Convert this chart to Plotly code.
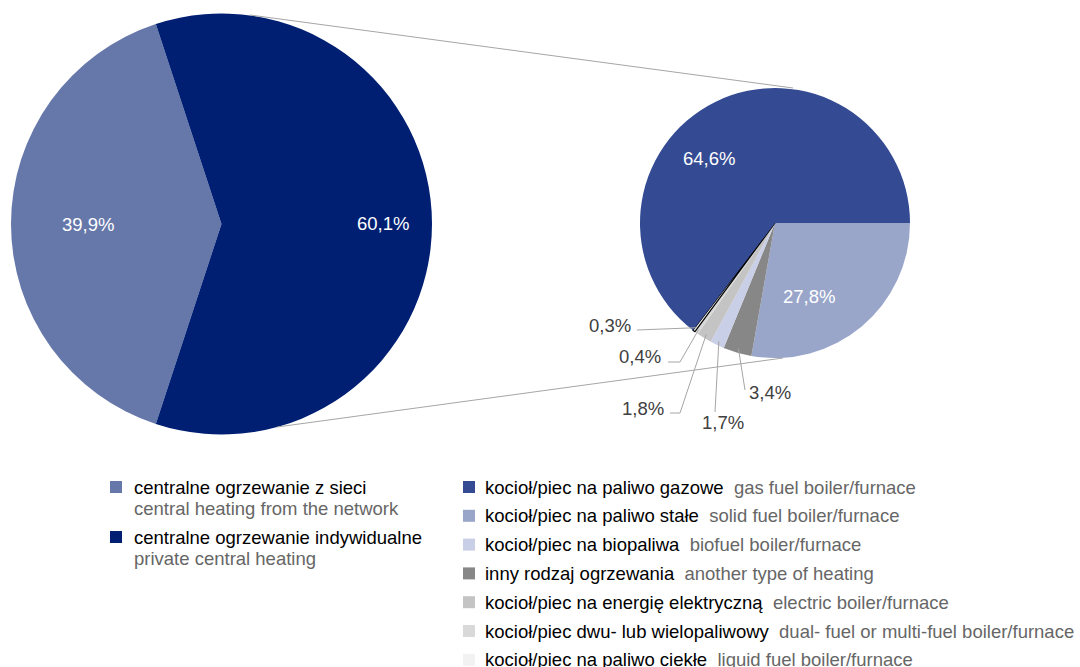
import math
import plotly.graph_objects as go

W, H = 1080, 667

# ---------------- data ----------------
main_labels_pl = ["centralne ogrzewanie z sieci", "centralne ogrzewanie indywidualne"]
main_labels_en = ["central heating from the network", "private central heating"]
main_values = [39.9, 60.1]
main_colors = ["#6677aa", "#001f73"]

sub_labels_pl = [
    "kocioł/piec na paliwo gazowe",
    "kocioł/piec na paliwo stałe",
    "kocioł/piec na biopaliwa",
    "inny rodzaj ogrzewania",
    "kocioł/piec na energię elektryczną",
    "kocioł/piec dwu- lub wielopaliwowy",
    "kocioł/piec na paliwo ciekłe",
]
sub_labels_en = [
    "gas fuel boiler/furnace",
    "solid fuel boiler/furnace",
    "biofuel boiler/furnace",
    "another type of heating",
    "electric boiler/furnace",
    "dual- fuel or multi-fuel boiler/furnace",
    "liquid fuel boiler/furnace",
]
sub_values = [64.6, 27.8, 1.7, 3.4, 1.8, 0.4, 0.3]
sub_colors = ["#344b93", "#99a6ca", "#c9cfe6", "#878787", "#c4c4c4", "#d9d9d9", "#f2f2f2"]
# clockwise drawing order of the sub pie, starting at 3 o'clock
sub_pie_order = [1, 3, 2, 4, 5, 6, 0]


def fmt(v):
    return f"{v:.1f}".replace(".", ",") + "%"


# ---------------- geometry (pixels) ----------------
MAIN_C, MAIN_R = (221.5, 224.0), 210.5
SUB_C, SUB_R = (775.0, 223.0), 135.0
FONT = "Liberation Sans, Arial, sans-serif"
FS = 18.5


def px(x):
    return x / W


def py(y):
    return 1 - y / H


def dom(c, r):
    return dict(x=[px(c[0] - r), px(c[0] + r)], y=[py(c[1] + r), py(c[1] - r)])


def mids(vals, rotation):
    tot = sum(vals)
    out, cum = [], rotation
    for v in vals:
        span = v / tot * 360
        out.append(cum + span / 2)
        cum += span
    return out


def polar(c, r, ang, f):
    a = math.radians(ang)
    return c[0] + f * r * math.sin(a), c[1] - f * r * math.cos(a)


main_rotation = 270 - main_values[0] / sum(main_values) * 180
sub_rotation = 90

sub_vals_ord = [sub_values[i] for i in sub_pie_order]
sub_cols_ord = [sub_colors[i] for i in sub_pie_order]
sub_labs_ord = [sub_labels_pl[i] for i in sub_pie_order]
line_w = [1.2 if i == 6 else 0 for i in sub_pie_order]
line_c = ["#000000" if i == 6 else "#ffffff" for i in sub_pie_order]

fig = go.Figure()
fig.add_trace(go.Pie(
    values=main_values, labels=main_labels_pl, sort=False, direction="clockwise",
    rotation=main_rotation, marker=dict(colors=main_colors, line=dict(width=0)),
    textinfo="none", showlegend=False, domain=dom(MAIN_C, MAIN_R),
    hoverinfo="label+percent",
))
fig.add_trace(go.Pie(
    values=sub_vals_ord, labels=sub_labs_ord, sort=False, direction="clockwise",
    rotation=sub_rotation, marker=dict(colors=sub_cols_ord, line=dict(width=line_w, color=line_c)),
    textinfo="none", showlegend=False, domain=dom(SUB_C, SUB_R),
    hoverinfo="label+percent",
))

annotations = []
shapes = []

# inside labels
for v, m in zip(main_values, mids(main_values, main_rotation)):
    x, y = polar(MAIN_C, MAIN_R, m, 0.765)
    annotations.append(dict(x=px(x), y=py(y), xref="paper", yref="paper", text=fmt(v),
                            showarrow=False, font=dict(family=FONT, size=FS, color="white")))

sub_mids = mids(sub_vals_ord, sub_rotation)
inside_f = {0: 0.64, 1: 0.71}
# outside label layout: (bend points..., label x, label y, xanchor)
outside = {
    3: ([(745, 390)], 747, 392, "left"),
    2: ([(715, 412)], 723, 422, "center"),
    4: ([(680, 413), (670, 413)], 666, 408, "right"),
    5: ([(680, 362), (668, 362)], 663, 356, "right"),
    6: ([(637, 330)], 633, 325, "right"),
}
for idx, v, m in zip(sub_pie_order, sub_vals_ord, sub_mids):
    if idx in inside_f:
        x, y = polar(SUB_C, SUB_R, m, inside_f[idx])
        annotations.append(dict(x=px(x), y=py(y), xref="paper", yref="paper", text=fmt(v),
                                showarrow=False, font=dict(family=FONT, size=FS, color="white")))
    else:
        pts, lx, ly, anc = outside[idx]
        sx, sy = polar(SUB_C, SUB_R, m, 0.97)
        path = f"M {px(sx)} {py(sy)}" + "".join(f" L {px(a)} {py(b)}" for a, b in pts)
        shapes.append(dict(type="path", path=path, xref="paper", yref="paper",
                           line=dict(color="#a6a6a6", width=1)))
        annotations.append(dict(x=px(lx), y=py(ly), xref="paper", yref="paper", text=fmt(v),
                                xanchor=anc, yanchor="middle", showarrow=False,
                                font=dict(family=FONT, size=FS, color="#404040")))

# connector lines between pies
for (x0, y0), (x1, y1) in [((250, 15), (793, 88)), ((277, 427), (783, 358))]:
    shapes.append(dict(type="line", xref="paper", yref="paper", x0=px(x0), y0=py(y0),
                       x1=px(x1), y1=py(y1), line=dict(color="#a6a6a6", width=1)))

# legend – left column
for i, (pl, en, col) in enumerate(zip(main_labels_pl, main_labels_en, main_colors)):
    y0 = 487 + i * 50
    shapes.append(dict(type="rect", xref="paper", yref="paper", x0=px(110), x1=px(122),
                       y0=py(y0 - 6), y1=py(y0 + 6), fillcolor=col, line=dict(width=0)))
    annotations.append(dict(x=px(132), y=py(y0), xref="paper", yref="paper", text=pl,
                            xanchor="left", yanchor="middle", showarrow=False,
                            font=dict(family=FONT, size=FS, color="#000000")))
    annotations.append(dict(x=px(132), y=py(y0 + 21), xref="paper", yref="paper", text=en,
                            xanchor="left", yanchor="middle", showarrow=False,
                            font=dict(family=FONT, size=FS, color="#666666")))

# legend – right column
for i, (pl, en, col) in enumerate(zip(sub_labels_pl, sub_labels_en, sub_colors)):
    y0 = 487 + i * 28.8
    shapes.append(dict(type="rect", xref="paper", yref="paper", x0=px(463), x1=px(475),
                       y0=py(y0 - 6), y1=py(y0 + 6), fillcolor=col, line=dict(width=0)))
    annotations.append(dict(x=px(483), y=py(y0), xref="paper", yref="paper",
                            text=f"{pl}\u00a0\u00a0<span style='color:#666666'>{en}</span>",
                            xanchor="left", yanchor="middle", showarrow=False,
                            font=dict(family=FONT, size=FS, color="#000000")))

fig.update_layout(
    width=W, height=H, margin=dict(l=0, r=0, t=0, b=0),
    paper_bgcolor="white", plot_bgcolor="white",
    annotations=annotations, shapes=shapes, showlegend=False,
    font=dict(family=FONT, size=FS),
)

fig.write_html(
    "out.html",
    config={"displayModeBar": False},
    post_script="document.body.style.margin='0';document.body.style.padding='0';",
)
